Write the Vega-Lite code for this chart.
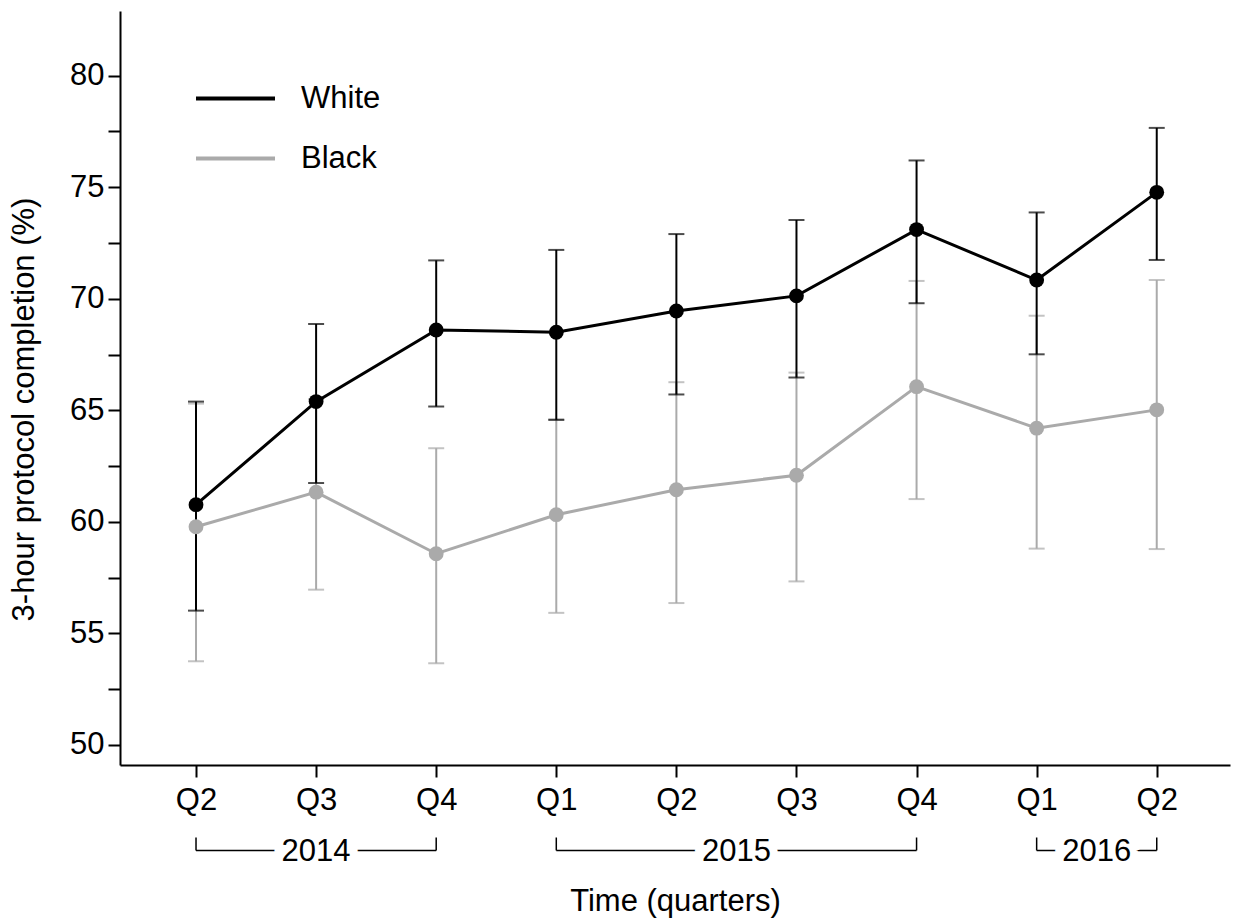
{
  "$schema": "https://vega.github.io/schema/vega-lite/v6.json",
  "width": 1110,
  "height": 754,
  "autosize": "none",
  "padding": {"left": 120, "top": 11, "right": 11, "bottom": 155},
  "background": "white",
  "config": {
    "view": {"stroke": null},
    "font": "Liberation Sans",
    "axis": {
      "grid": false,
      "domainColor": "#000000",
      "domainWidth": 2,
      "tickColor": "#000000",
      "tickWidth": 2,
      "tickSize": 12,
      "labelColor": "#000000",
      "labelFontSize": 31,
      "titleColor": "#000000",
      "titleFontSize": 31,
      "titleFontWeight": "normal"
    }
  },
  "datasets": {
    "series": [
      {"t": 0, "year": "2014", "quarter": "Q2", "group": "White", "mean": 60.77, "lo": 56.02, "hi": 65.39},
      {"t": 1, "year": "2014", "quarter": "Q3", "group": "White", "mean": 65.39, "lo": 61.74, "hi": 68.87},
      {"t": 2, "year": "2014", "quarter": "Q4", "group": "White", "mean": 68.6, "lo": 65.17, "hi": 71.72},
      {"t": 3, "year": "2015", "quarter": "Q1", "group": "White", "mean": 68.5, "lo": 64.57, "hi": 72.19},
      {"t": 4, "year": "2015", "quarter": "Q2", "group": "White", "mean": 69.45, "lo": 65.71, "hi": 72.9},
      {"t": 5, "year": "2015", "quarter": "Q3", "group": "White", "mean": 70.13, "lo": 66.47, "hi": 73.53},
      {"t": 6, "year": "2015", "quarter": "Q4", "group": "White", "mean": 73.1, "lo": 69.8, "hi": 76.2},
      {"t": 7, "year": "2016", "quarter": "Q1", "group": "White", "mean": 70.84, "lo": 67.51, "hi": 73.87},
      {"t": 8, "year": "2016", "quarter": "Q2", "group": "White", "mean": 74.77, "lo": 71.74, "hi": 77.66},
      {"t": 0, "year": "2014", "quarter": "Q2", "group": "Black", "mean": 59.78, "lo": 53.75, "hi": 65.3},
      {"t": 1, "year": "2014", "quarter": "Q3", "group": "Black", "mean": 61.33, "lo": 56.96, "hi": 65.5},
      {"t": 2, "year": "2014", "quarter": "Q4", "group": "Black", "mean": 58.57, "lo": 53.66, "hi": 63.3},
      {"t": 3, "year": "2015", "quarter": "Q1", "group": "Black", "mean": 60.32, "lo": 55.92, "hi": 64.6},
      {"t": 4, "year": "2015", "quarter": "Q2", "group": "Black", "mean": 61.44, "lo": 56.36, "hi": 66.26},
      {"t": 5, "year": "2015", "quarter": "Q3", "group": "Black", "mean": 62.09, "lo": 57.33, "hi": 66.69},
      {"t": 6, "year": "2015", "quarter": "Q4", "group": "Black", "mean": 66.06, "lo": 61.02, "hi": 70.8},
      {"t": 7, "year": "2016", "quarter": "Q1", "group": "Black", "mean": 64.2, "lo": 58.8, "hi": 69.24},
      {"t": 8, "year": "2016", "quarter": "Q2", "group": "Black", "mean": 65.02, "lo": 58.78, "hi": 70.84}
    ],
    "years": [
      {"year": "2014", "start": 0, "end": 2, "mid": 1},
      {"year": "2015", "start": 3, "end": 6, "mid": 4.5},
      {"year": "2016", "start": 7, "end": 8, "mid": 7.5}
    ]
  },
  "layer": [
    {
      "data": {"name": "series"},
      "transform": [{"filter": "datum.group === 'Black'"}],
      "mark": {"type": "errorbar", "orient": "vertical", "thickness": 2, "ticks": {"size": 16, "thickness": 2}},
      "encoding": {
        "x": {
          "field": "t", "type": "quantitative",
          "title": "Time (quarters)",
          "scale": {"domain": [-0.633, 8.61], "nice": false, "zero": false},
          "axis": {
            "values": [0, 1, 2, 3, 4, 5, 6, 7, 8],
            "labelExpr": "['Q2','Q3','Q4','Q1'][datum.value % 4]",
            "labelPadding": 8,
            "titlePadding": 71
          }
        },
        "y": {
          "field": "lo", "type": "quantitative",
          "title": "3-hour protocol completion (%)",
          "scale": {"domain": [49.1, 82.9], "nice": false, "zero": false},
          "axis": {
            "values": [50, 52.5, 55, 57.5, 60, 62.5, 65, 67.5, 70, 72.5, 75, 77.5, 80],
            "labelExpr": "datum.value % 5 === 0 ? datum.label : ''",
            "labelPadding": 4,
            "titlePadding": 29,
            "titleY": 398
          }
        },
        "y2": {"field": "hi", "title": null},
        "color": {
          "field": "group", "type": "nominal",
          "scale": {"domain": ["White", "Black"], "range": ["#000000", "#aaaaaa"]},
          "legend": {
            "orient": "none",
            "legendX": 74,
            "legendY": 46,
            "title": null,
            "padding": 0,
            "symbolType": "stroke",
            "symbolSize": 6241,
            "symbolStrokeWidth": 4,
            "symbolOpacity": 1,
            "labelFontSize": 31,
            "labelColor": "#000000",
            "labelOffset": 24,
            "rowPadding": 3,
            "encode": {
              "symbols": {
                "update": {
                  "strokeWidth": {"value": 4},
                  "opacity": {"value": 1},
                  "strokeOpacity": {"value": 1}
                }
              }
            }
          }
        }
      }
    },
    {
      "data": {"name": "series"},
      "transform": [{"filter": "datum.group === 'White'"}],
      "mark": {"type": "errorbar", "orient": "vertical", "thickness": 2, "ticks": {"size": 16, "thickness": 2}},
      "encoding": {
        "x": {"field": "t", "type": "quantitative", "title": "Time (quarters)"},
        "y": {"field": "lo", "type": "quantitative", "title": "3-hour protocol completion (%)"},
        "y2": {"field": "hi", "title": null},
        "color": {"field": "group", "type": "nominal"}
      }
    },
    {
      "data": {"name": "series"},
      "transform": [{"filter": "datum.group === 'Black'"}],
      "mark": {"type": "line", "strokeWidth": 3},
      "encoding": {
        "x": {"field": "t", "type": "quantitative", "title": "Time (quarters)"},
        "y": {"field": "mean", "type": "quantitative", "title": "3-hour protocol completion (%)"},
        "color": {"field": "group", "type": "nominal"}
      }
    },
    {
      "data": {"name": "series"},
      "transform": [{"filter": "datum.group === 'Black'"}],
      "mark": {"type": "point", "filled": true, "opacity": 1, "size": 220},
      "encoding": {
        "x": {"field": "t", "type": "quantitative", "title": "Time (quarters)"},
        "y": {"field": "mean", "type": "quantitative", "title": "3-hour protocol completion (%)"},
        "color": {"field": "group", "type": "nominal"}
      }
    },
    {
      "data": {"name": "series"},
      "transform": [{"filter": "datum.group === 'White'"}],
      "mark": {"type": "line", "strokeWidth": 3},
      "encoding": {
        "x": {"field": "t", "type": "quantitative", "title": "Time (quarters)"},
        "y": {"field": "mean", "type": "quantitative", "title": "3-hour protocol completion (%)"},
        "color": {"field": "group", "type": "nominal"}
      }
    },
    {
      "data": {"name": "series"},
      "transform": [{"filter": "datum.group === 'White'"}],
      "mark": {"type": "point", "filled": true, "opacity": 1, "size": 220},
      "encoding": {
        "x": {"field": "t", "type": "quantitative", "title": "Time (quarters)"},
        "y": {"field": "mean", "type": "quantitative", "title": "3-hour protocol completion (%)"},
        "color": {"field": "group", "type": "nominal"}
      }
    },
    {
      "data": {"name": "years"},
      "mark": {"type": "rule", "color": "#000000", "strokeWidth": 1.5, "clip": false},
      "encoding": {
        "x": {"field": "start", "type": "quantitative", "title": "Time (quarters)"},
        "x2": {"field": "end"},
        "y": {"datum": 45.27}
      }
    },
    {
      "data": {"name": "years"},
      "mark": {"type": "rule", "color": "#000000", "strokeWidth": 1.5, "clip": false},
      "encoding": {
        "x": {"field": "start", "type": "quantitative", "title": "Time (quarters)"},
        "y": {"datum": 45.27},
        "y2": {"datum": 45.85}
      }
    },
    {
      "data": {"name": "years"},
      "mark": {"type": "rule", "color": "#000000", "strokeWidth": 1.5, "clip": false},
      "encoding": {
        "x": {"field": "end", "type": "quantitative", "title": "Time (quarters)"},
        "y": {"datum": 45.27},
        "y2": {"datum": 45.85}
      }
    },
    {
      "data": {"name": "years"},
      "mark": {"type": "text", "fontSize": 31, "baseline": "middle", "align": "center", "fill": "#ffffff", "stroke": "#ffffff", "strokeWidth": 16, "clip": false},
      "encoding": {
        "x": {"field": "mid", "type": "quantitative", "title": "Time (quarters)"},
        "y": {"datum": 45.22},
        "text": {"field": "year"}
      }
    },
    {
      "data": {"name": "years"},
      "mark": {"type": "text", "fontSize": 31, "baseline": "middle", "align": "center", "color": "#000000", "clip": false},
      "encoding": {
        "x": {"field": "mid", "type": "quantitative", "title": "Time (quarters)"},
        "y": {"datum": 45.22},
        "text": {"field": "year"}
      }
    }
  ]
}
